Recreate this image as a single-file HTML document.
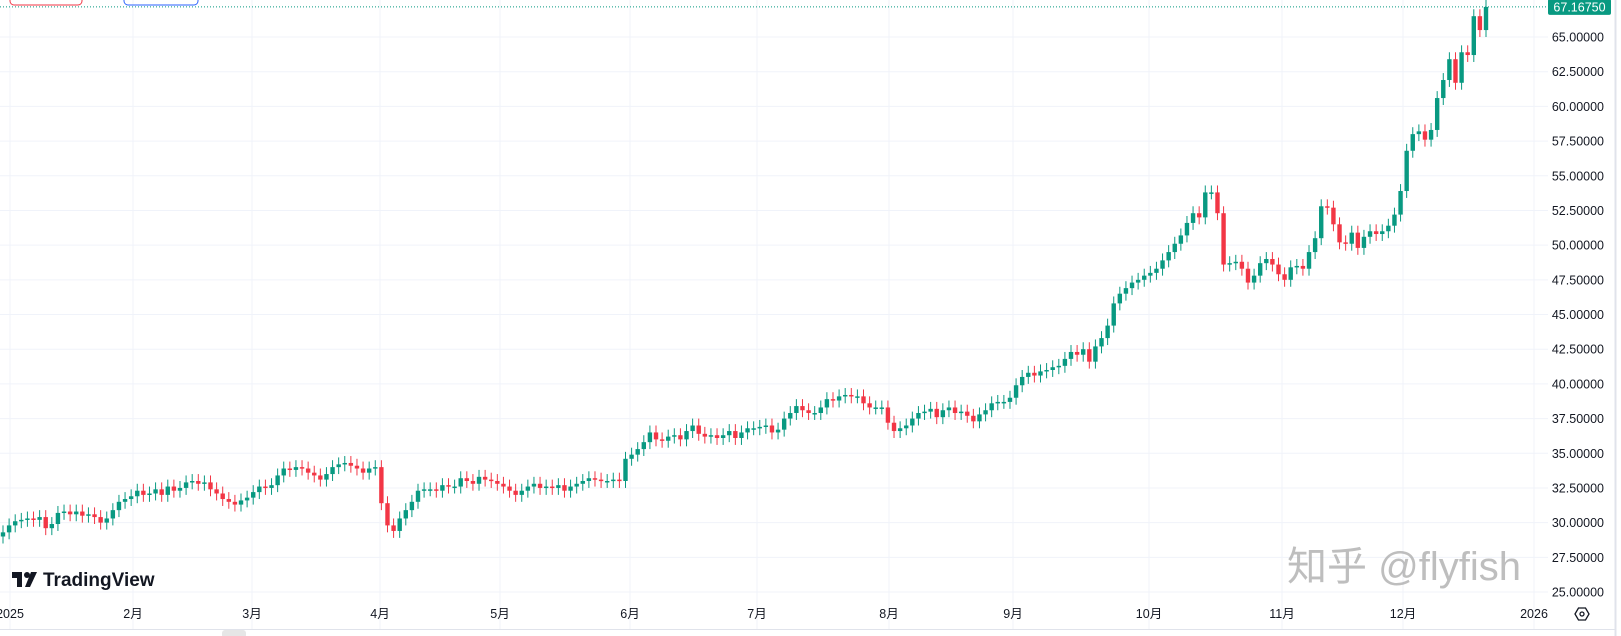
<!DOCTYPE html>
<html><head><meta charset="utf-8"><style>
html,body{margin:0;padding:0;background:#fff;width:1621px;height:636px;overflow:hidden}
svg{display:block;font-family:"Liberation Sans","Noto Sans CJK SC",sans-serif}
</style></head><body>
<svg id="chart" width="1621" height="636">
<g id="grid"></g>
<g id="candles"></g>
<g id="yaxis"></g>
<g id="xaxis"></g>
<rect x="10" y="-14" width="72" height="19" rx="4" fill="none" stroke="#f23645"/>
<rect x="124" y="-14" width="74" height="19" rx="4" fill="none" stroke="#2962ff"/>
<g>
<rect x="12" y="572" width="9" height="6" fill="#131722"/><rect x="17" y="572" width="5" height="15" fill="#131722"/>
<circle cx="27" cy="575" r="3" fill="#131722"/><polygon points="31,572 37,572 30,587 25,587" fill="#131722"/>
<text x="43" y="586" font-size="19" font-weight="bold" fill="#131722">TradingView</text>
</g>
<text x="1287" y="580" font-size="40" fill="#a8a8a8" fill-opacity="0.75">知乎 @flyfish</text>
<line x1="0" y1="629.5" x2="1615" y2="629.5" stroke="#e0e3eb"/>
<line x1="1615.5" y1="0" x2="1615.5" y2="636" stroke="#e0e3eb" stroke-width="2"/>
<rect x="222" y="630" width="24" height="8" rx="3" fill="#e6e6e6"/>
<g><polygon points="1575,614 1578.5,608 1585.5,608 1589,614 1585.5,620 1578.5,620" fill="none" stroke="#131722" stroke-width="1.3"/><circle cx="1582" cy="614" r="2" fill="none" stroke="#131722" stroke-width="1.3"/></g>
</svg>
<script>
const closes = [
29.3,29.8,30.1,30.2,30.3,30.2,30.4,29.6,29.9,30.7,30.8,30.6,30.8,30.5,30.6,30.4,30.0,30.3,30.9,31.5,31.7,
31.9,32.3,32.0,32.1,32.4,32.0,32.6,32.3,32.5,32.9,33.0,32.8,32.9,32.4,32.1,31.7,31.5,31.3,31.6,31.8,
32.2,32.6,32.5,32.7,33.4,33.9,33.8,34.0,33.9,33.6,33.4,33.1,33.5,34.0,34.2,34.3,34.1,33.9,33.6,33.9,
34.0,31.4,29.8,29.4,30.3,30.9,31.5,32.3,32.4,32.4,32.3,32.7,32.6,32.6,33.2,33.0,32.8,33.3,33.1,33.0,
32.8,32.6,32.3,32.0,32.3,32.6,32.8,32.5,32.6,32.5,32.7,32.3,32.6,32.8,33.0,33.2,33.1,33.0,33.0,33.1,33.0,
34.6,34.9,35.3,35.8,36.5,36.0,35.9,36.2,36.3,36.0,36.6,37.0,36.4,36.2,36.3,36.1,36.3,36.6,36.1,36.5,
36.8,36.8,36.9,37.0,36.5,36.7,37.5,37.9,38.4,38.1,37.9,37.9,38.3,38.9,38.8,39.1,39.2,39.1,39.1,38.6,38.3,38.3,
38.3,37.2,36.6,36.8,37.0,37.5,37.9,38.0,38.2,37.6,38.1,38.3,37.9,38.0,37.7,37.3,37.8,38.1,38.6,38.7,
38.7,39.0,39.9,40.5,40.8,40.6,40.9,41.0,41.2,41.3,41.8,42.3,42.1,42.5,41.6,42.7,43.3,44.2,45.8,46.5,
46.9,47.3,47.5,47.8,48.0,48.3,48.9,49.5,50.1,50.7,51.6,52.3,52.0,53.8,53.8,52.3,48.6,48.7,48.8,48.3,47.3,47.8,48.7,49.0,
48.6,47.9,47.5,48.4,48.5,48.3,49.5,50.5,52.8,52.7,51.5,50.2,50.1,50.9,49.8,50.6,51.0,50.8,51.0,51.4,52.2,
53.9,56.8,58.0,58.2,57.6,58.3,60.6,61.9,63.4,61.7,63.9,63.7,66.5,65.5,67.1675];
const firstOpen = 29.0;
const priceTicks = [65,62.5,60,57.5,55,52.5,50,47.5,45,42.5,40,37.5,35,32.5,30,27.5,25];
const monthLabels = ["2025","2月","3月","4月","5月","6月","7月","8月","9月","10月","11月","12月","2026"];
const monthX = [10,133,252,380,500,630,757,889,1013,1149,1282,1403,1534];
const lastPrice = 67.1675;

const NS="http://www.w3.org/2000/svg";
const PLOT_R=1548;
function y(v){return 37+(65-v)*13.875;}
const X0=3, STEP=(1486-3)/(closes.length-1);
function x(i){return X0+i*STEP;}
function mk(t,a,p){const e=document.createElementNS(NS,t);for(const k in a)e.setAttribute(k,a[k]);p.appendChild(e);return e;}

const grid=document.getElementById('grid'), cg=document.getElementById('candles'),
 ya=document.getElementById('yaxis'), xa=document.getElementById('xaxis');
priceTicks.forEach(v=>{
 const l=mk('line',{x1:0,x2:PLOT_R,y1:y(v),y2:y(v),stroke:'#f0f3fa'},grid);
 
 
 const t=mk('text',{x:1604,y:y(v)+4.5,'text-anchor':'end','font-size':12.5,fill:'#131722'},ya);
 t.textContent=v.toFixed(5);
 
 
});
monthLabels.forEach((m,k)=>{
 const xi=monthX[k];
 const l=mk('line',{x1:xi,x2:xi,y1:0,y2:629,stroke:'#f0f3fa'},grid);
 
 
 const t=mk('text',{x:xi,y:618,'text-anchor':'middle','font-size':12.5,fill:'#131722'},xa);
 t.textContent=m;
 
 
});
closes.forEach((c,i)=>{
 const o=i===0?firstOpen:closes[i-1];
 const up=c>=o, col=up?'#089981':'#f23645';
 const hi=Math.max(o,c)+0.5, lo=Math.min(o,c)-0.5;
 const xi=x(i);
 const g=mk('g',{},cg);
 
 
 mk('line',{x1:xi,x2:xi,y1:y(hi),y2:y(lo),stroke:col,'stroke-width':1},g);
 const top=y(Math.max(o,c)), h=Math.max(1.5,y(Math.min(o,c))-top);
 mk('rect',{x:xi-2.2,y:top,width:4.4,height:h,fill:col},g);
});
const ly=y(lastPrice);
const dl=mk('line',{x1:0,x2:PLOT_R,y1:ly,y2:ly,stroke:'#089981','stroke-dasharray':'1 2'},ya);


const lb=mk('rect',{x:PLOT_R,y:ly-8,width:63,height:16,rx:2,fill:'#089981'},ya);


const lt=mk('text',{x:1579.5,y:ly+4.5,'text-anchor':'middle','font-size':12.5,fill:'#fff'},ya);
lt.textContent=lastPrice.toFixed(5);


</script>
</body></html>
